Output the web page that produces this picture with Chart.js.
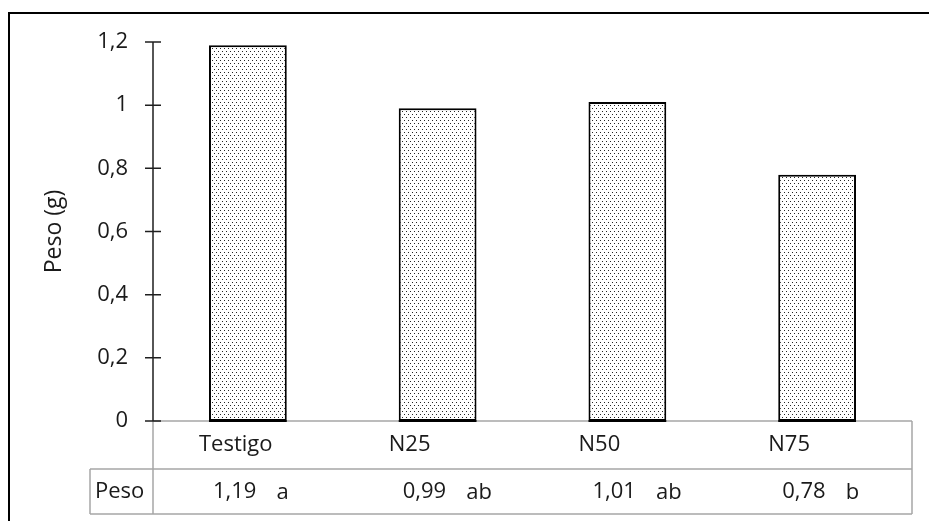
<!DOCTYPE html>
<html>
<head>
<meta charset="utf-8">
<script src="https://cdn.jsdelivr.net/npm/chart.js@4/dist/chart.umd.min.js"></script>
<style>
  html, body { margin: 0; padding: 0; background: #fff; }
  canvas { display: block; }
</style>
</head>
<body>
<canvas id="chart" width="929" height="521"></canvas>
<script>
// Treatments and mean weight per treatment
const categories = ['Testigo', 'N25', 'N50', 'N75'];
const pesoValues = [1.19, 0.99, 1.01, 0.78];
// Significance letters shown next to each mean
const groupLetters = ['a', 'ab', 'ab', 'b'];
const yTickValues = [0, 0.2, 0.4, 0.6, 0.8, 1, 1.2];
const rowHeader = 'Peso';
const yTitle = 'Peso (g)';

const FONT_FAMILY = '"Open Sans", "DejaVu Sans", sans-serif';
const TEXT_COLOR = '#1a1a1a';
const FONT_SIZE = 22;

const fmt = v => String(Math.round(v * 100) / 100).replace('.', ',');

// Dotted fill used for the bars
function dotPattern() {
  const c = document.createElement('canvas');
  c.width = 4; c.height = 6;
  const g = c.getContext('2d');
  g.fillStyle = '#fff';
  g.fillRect(0, 0, 4, 6);
  g.fillStyle = '#262626';
  g.fillRect(0, 0, 1, 1);
  g.fillRect(2, 3, 1, 1);
  return g.createPattern(c, 'repeat');
}

const ctx = document.getElementById('chart').getContext('2d');

// Frame, axis line with crossing ticks, and the data table under the plot
const tablePlugin = {
  id: 'dataTable',
  beforeDraw(chart) {
    const c = chart.ctx;
    c.save();
    c.fillStyle = '#fff';
    c.fillRect(0, 0, chart.width, chart.height);
    c.strokeStyle = '#000';
    c.lineWidth = 2;
    c.beginPath();
    c.moveTo(9, chart.height);
    c.lineTo(9, 13);
    c.lineTo(chart.width, 13);
    c.stroke();
    c.restore();
  },
  afterDraw(chart) {
    const c = chart.ctx;
    const area = chart.chartArea;
    const xs = chart.scales.x;
    const ys = chart.scales.y;
    const colW = (area.right - area.left) / categories.length;
    const catRowH = 48;
    const valRowH = 45;
    const headerW = 63;
    const rowTop = area.bottom;
    const row2Top = rowTop + catRowH;
    const row2Bottom = row2Top + valRowH;

    c.save();
    // table grid
    c.strokeStyle = '#a6a6a6';
    c.lineWidth = 1.5;
    c.beginPath();
    c.moveTo(area.left, rowTop); c.lineTo(area.right, rowTop);
    c.moveTo(area.left - headerW, row2Top); c.lineTo(area.right, row2Top);
    c.moveTo(area.left - headerW, row2Bottom); c.lineTo(area.right, row2Bottom);
    c.moveTo(area.left, rowTop); c.lineTo(area.left, row2Bottom);
    c.moveTo(area.right, rowTop); c.lineTo(area.right, row2Bottom);
    c.moveTo(area.left - headerW, row2Top); c.lineTo(area.left - headerW, row2Bottom);
    c.stroke();

    // redraw bar bottoms over the grid line
    chart.getDatasetMeta(0).data.forEach(bar => {
      c.strokeStyle = '#000';
      c.lineWidth = 2;
      c.beginPath();
      c.moveTo(bar.x - bar.width / 2, rowTop);
      c.lineTo(bar.x + bar.width / 2, rowTop);
      c.stroke();
    });

    // value axis line with ticks that cross it
    c.strokeStyle = '#1f1f1f';
    c.lineWidth = 1.5;
    c.beginPath();
    c.moveTo(area.left, ys.getPixelForValue(ys.max));
    c.lineTo(area.left, ys.getPixelForValue(0));
    yTickValues.forEach(v => {
      const py = ys.getPixelForValue(v);
      c.moveTo(area.left - 8, py);
      c.lineTo(area.left + 8, py);
    });
    c.stroke();

    // table text
    c.fillStyle = TEXT_COLOR;
    c.font = FONT_SIZE + 'px ' + FONT_FAMILY;
    c.textBaseline = 'middle';
    categories.forEach((name, i) => {
      const colLeft = xs.getPixelForValue(i) - colW / 2;
      c.textAlign = 'left';
      c.fillText(name, colLeft + 46, rowTop + catRowH / 2);
      const numText = fmt(pesoValues[i]);
      const numLeft = colLeft + 60;
      c.fillText(numText, numLeft, row2Top + valRowH / 2);
      const numRight = numLeft + c.measureText(numText).width;
      c.fillText(groupLetters[i], numRight + 20, row2Top + valRowH / 2 + 1);
    });
    c.textAlign = 'left';
    c.fillText(rowHeader, area.left - headerW + 5, row2Top + valRowH / 2);
    c.restore();
  }
};

new Chart(ctx, {
  type: 'bar',
  data: {
    labels: categories,
    datasets: [{
      label: rowHeader,
      data: pesoValues,
      backgroundColor: dotPattern(),
      borderColor: '#000',
      borderWidth: 2,
      borderSkipped: false,
      categoryPercentage: 1,
      barPercentage: 0.41
    }]
  },
  options: {
    responsive: false,
    animation: false,
    devicePixelRatio: 1,
    layout: { padding: { top: 42, right: 17, bottom: 100, left: 0 } },
    plugins: { legend: { display: false }, tooltip: { enabled: false } },
    scales: {
      x: { display: false },
      y: {
        min: 0,
        max: 1.2,
        afterFit(scale) { scale.width = 153; },
        afterBuildTicks(scale) { scale.ticks = yTickValues.map(v => ({ value: v })); },
        grid: { display: false, drawTicks: false },
        border: { display: false },
        ticks: {
          padding: 25,
          color: TEXT_COLOR,
          font: { family: FONT_FAMILY, size: FONT_SIZE },
          callback: v => fmt(v)
        },
        title: {
          display: true,
          text: yTitle,
          color: TEXT_COLOR,
          font: { family: FONT_FAMILY, size: 23 },
          padding: { top: 41, bottom: 0 }
        }
      }
    }
  },
  plugins: [tablePlugin]
});
</script>
</body>
</html>
